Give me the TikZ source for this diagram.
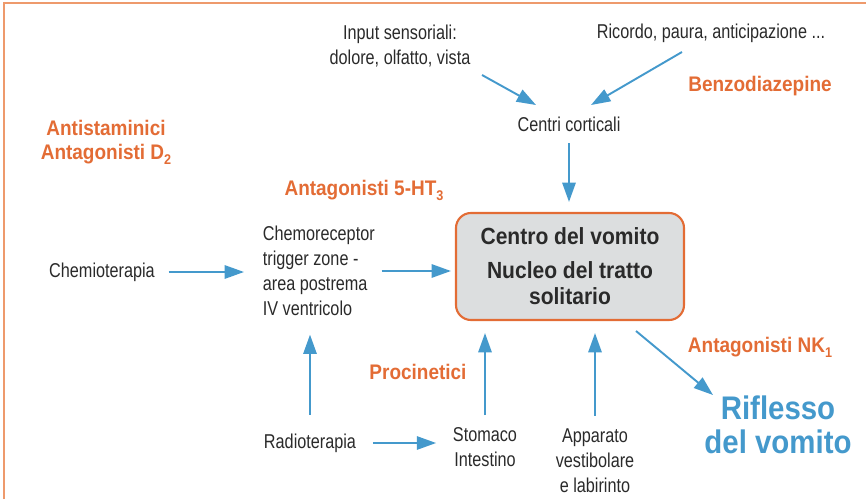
\documentclass[tikz,border=0pt]{standalone}
\usepackage{fontspec}
\setmainfont{Liberation Sans}[FakeStretch=0.81]
\newfontfamily\boldcond{Liberation Sans}[FakeStretch=0.9]
\usetikzlibrary{arrows.meta}
\definecolor{drugorange}{HTML}{E36C35}
\definecolor{arrowblue}{HTML}{4499CC}
\definecolor{boxgray}{HTML}{DCDEDF}
\definecolor{textdark}{HTML}{2A2A2A}
\definecolor{frameorange}{HTML}{EE9A6C}
\newcommand{\lowidx}[1]{\raisebox{-0.45ex}{\fontsize{8}{8}\selectfont #1}}
\tikzset{
  txt/.style={text=textdark, align=center, inner sep=2pt, font=\fontsize{11.4}{14.2}\selectfont},
  drug/.style={text=drugorange, align=center, inner sep=2pt, font=\boldcond\bfseries\fontsize{12}{13.6}\selectfont},
  centro/.style={draw=drugorange, fill=boxgray, line width=1.2pt, rounded corners=0.3cm,
    minimum width=4.56cm, minimum height=2.14cm, align=center, text=textdark,
    font=\boldcond\bfseries\fontsize{13.3}{14.8}\selectfont},
  riflesso/.style={text=arrowblue, align=center, inner sep=2pt, font=\boldcond\bfseries\fontsize{18.6}{19.3}\selectfont},
  arr/.style={draw=arrowblue, line width=1.1pt, -{Triangle[length=11pt,width=7.6pt]}},
}
\begin{document}
\begin{tikzpicture}
\useasboundingbox (0,0) rectangle (17.32,9.98);
\draw[frameorange, line width=1.2pt] (0.08,0) -- (0.08,9.92) -- (17.32,9.92);

\node[txt] (input) at (8.0,9.06) {Input sensoriali:\\dolore, olfatto, vista};
\node[txt] (ricordo) at (14.22,9.32) {Ricordo, paura, anticipazione ...};
\node[txt] (centri) at (11.38,7.5) {Centri corticali};
\node[drug] (benzo) at (15.2,8.26) {Benzodiazepine};
\node[drug] (antist) at (2.12,7.14) {Antistaminici\\Antagonisti D\lowidx{2}};
\node[drug] (ht3) at (7.28,6.18) {Antagonisti 5-HT\lowidx{3}};
\node[centro] (box) at (11.4,4.65) {Centro del vomito\\[4.5pt]Nucleo del tratto\\solitario};
\node[txt] (chemio) at (2.04,4.54) {Chemioterapia};
\node[txt, align=left, anchor=west] (ctz) at (5.18,4.56) {Chemoreceptor\\trigger zone -\\area postrema\\IV ventricolo};
\node[txt] (radio) at (6.2,1.12) {Radioterapia};
\node[drug] (procin) at (8.36,2.54) {Procinetici};
\node[txt] (stomaco) at (9.7,1.03) {Stomaco\\Intestino};
\node[txt] (apparato) at (11.9,0.77) {Apparato\\vestibolare\\e labirinto};
\node[drug] (nk1) at (15.2,3.04) {Antagonisti NK\lowidx{1}};
\node[riflesso] (riflesso) at (15.56,1.48) {Riflesso\\del vomito};

\draw[arr] ([shift={(1.64,-0.58)}]input.center) -- ([shift={(-0.66,0.38)}]centri.center);
\draw[arr] ([shift={(-0.58,-0.38)}]ricordo.center) -- ([shift={(0.44,0.38)}]centri.center);
\draw[arr, shorten <=0.16cm, shorten >=0.2cm] (centri.south) -- (centri.south |- box.north);
\draw[arr, shorten <=0.2cm, shorten >=0.3cm] (chemio.east) -- (chemio.east -| ctz.west);
\draw[arr, shorten <=0.06cm, shorten >=0.08cm] (ctz.east) -- (ctz.east -| box.west);
\draw[arr, shorten <=0.3cm, shorten >=0.3cm] (radio.north) -- (radio.north |- ctz.south);
\draw[arr, shorten <=0.26cm, shorten >=0.26cm] (radio.east) -- (radio.east -| stomaco.west);
\draw[arr, shorten <=0.18cm, shorten >=0.24cm] (stomaco.north) -- (stomaco.north |- box.south);
\draw[arr, shorten <=0.18cm, shorten >=0.24cm] (apparato.north) -- (apparato.north |- box.south);
\draw[arr] ([shift={(1.32,-1.29)}]box.center) -- ([shift={(-1.3,0.6)}]riflesso.center);
\end{tikzpicture}
\end{document}
